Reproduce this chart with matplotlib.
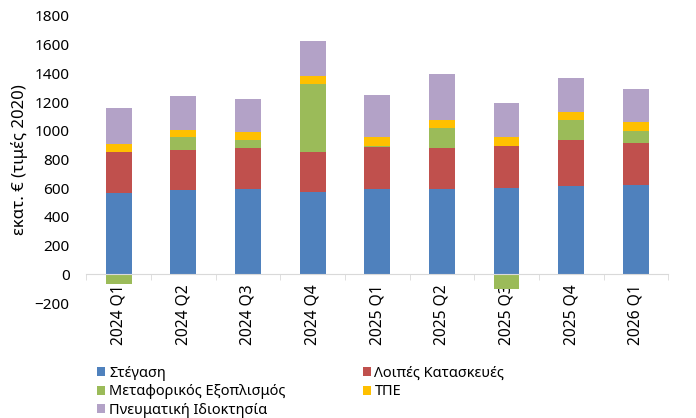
import numpy as np
import matplotlib.pyplot as plt

plt.rcParams['font.family'] = ['Noto Sans', 'DejaVu Sans']

quarters = ['2024 Q1', '2024 Q2', '2024 Q3', '2024 Q4', '2025 Q1',
            '2025 Q2', '2025 Q3', '2025 Q4', '2026 Q1']

housing = [567, 584, 593, 575, 593, 591, 600, 614, 619]
other_constr = [285, 279, 284, 277, 293, 291, 293, 321, 298]
transport = [-65, 91, 58, 474, 10, 137, -100, 140, 81]
ict = [55, 51, 56, 54, 58, 56, 61, 58, 61]
ip = [252, 237, 230, 244, 295, 321, 237, 237, 230]

names = ['Στέγαση', 'Λοιπές Κατασκευές', 'Μεταφορικός Εξοπλισμός', 'ΤΠΕ', 'Πνευματική Ιδιοκτησία']
colors = ['#4F81BD', '#C0504D', '#9BBB59', '#FFC000', '#B3A2C7']
series = [housing, other_constr, transport, ict, ip]

fig = plt.figure(figsize=(6.96, 4.18), dpi=100)
ax = fig.add_axes([0.124, 0.275, 0.836, 0.687])

x = np.arange(len(quarters))
pos_bottom = np.zeros(len(quarters))
neg_bottom = np.zeros(len(quarters))
bars = []
for vals, name, col in zip(series, names, colors):
    v = np.array(vals, dtype=float)
    bottom = np.where(v >= 0, pos_bottom, neg_bottom)
    b = ax.bar(x, v, width=0.4, bottom=bottom, color=col, label=name, zorder=2)
    bars.append(b)
    pos_bottom += np.where(v >= 0, v, 0)
    neg_bottom += np.where(v < 0, v, 0)

ax.set_ylim(-200, 1800)
ax.set_xlim(-0.5, len(quarters) - 0.5)
ax.set_yticks(np.arange(-200, 1801, 200))
ax.tick_params(axis='y', length=0, pad=12, labelsize=11)

for s in ['top', 'right', 'left']:
    ax.spines[s].set_visible(False)
ax.spines['bottom'].set_position(('data', 0))
ax.spines['bottom'].set_color('#d9d9d9')
ax.spines['bottom'].set_zorder(3)

ax.set_xticks(x)
ax.set_xticklabels(quarters, rotation=90, va='top', fontsize=11.2)
ax.tick_params(axis='x', which='major', length=0, pad=7)
ax.set_xticks(np.arange(-0.5, len(quarters), 1), minor=True)
ax.tick_params(axis='x', which='minor', length=4, color='#d9d9d9')

ax.set_ylabel('εκατ. € (τιμές 2020)', fontsize=12, labelpad=5)

order = [0, 2, 4, 1, 3]
leg = fig.legend([bars[i] for i in order], [names[i] for i in order],
                 loc='upper left', bbox_to_anchor=(0.14, 0.125), ncol=2,
                 frameon=False, fontsize=10.5, handlelength=0.55, handleheight=0.55,
                 handletextpad=0.25, labelspacing=0.25, columnspacing=5.3,
                 borderaxespad=0, borderpad=0)

fig.savefig('out.png', dpi=100)
